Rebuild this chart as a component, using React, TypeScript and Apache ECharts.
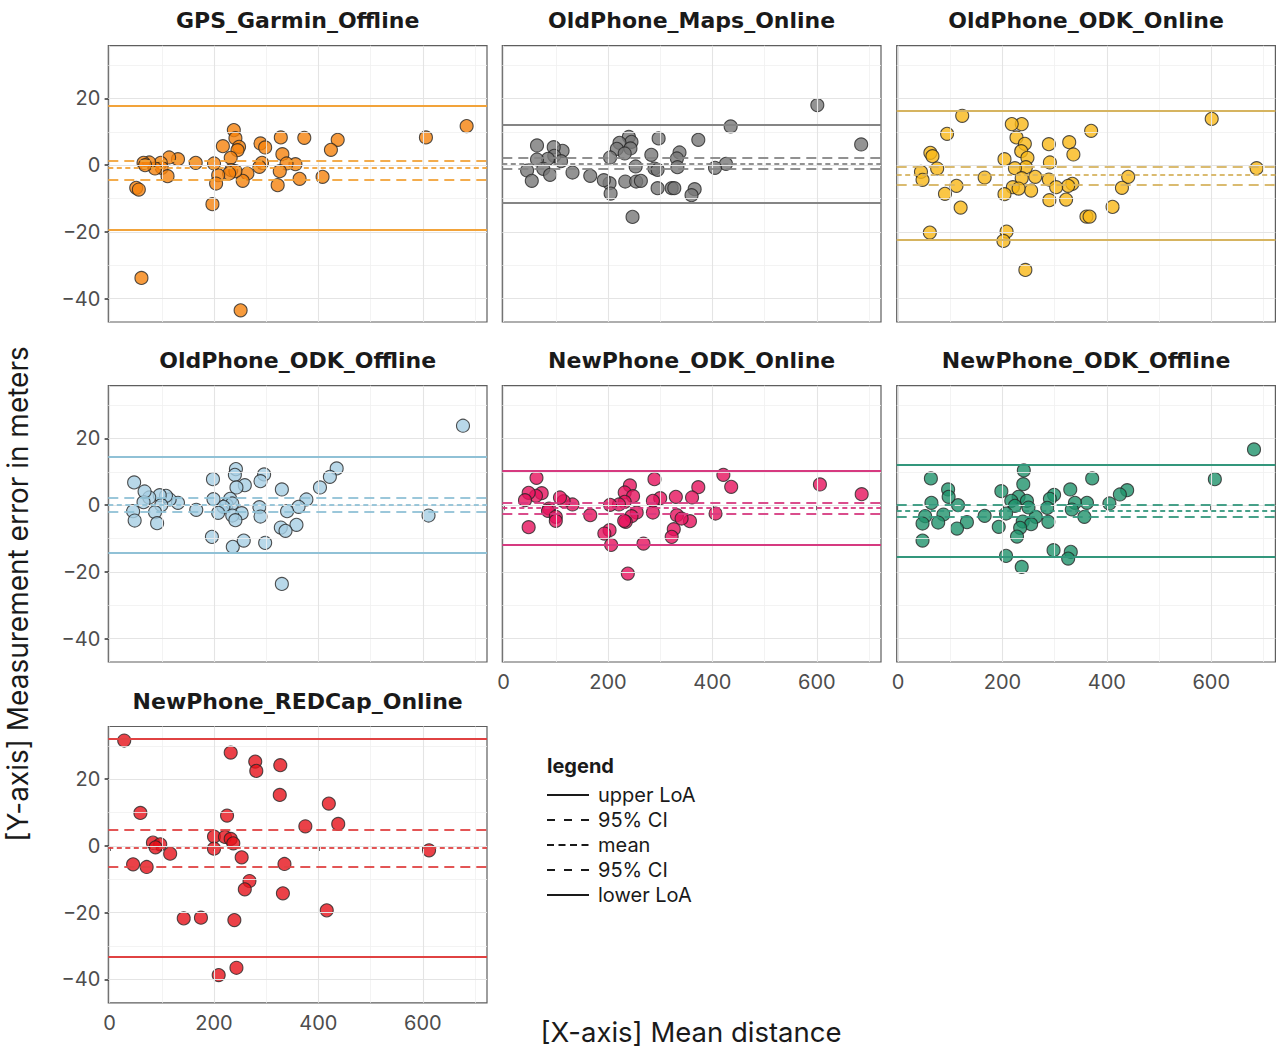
import React, { useEffect, useRef } from "react";
import * as echarts from "echarts";

// ---------- data ----------
const panelNames = [
  "GPS_Garmin_Offline",
  "OldPhone_Maps_Online",
  "OldPhone_ODK_Online",
  "OldPhone_ODK_Offline",
  "NewPhone_ODK_Online",
  "NewPhone_ODK_Offline",
  "NewPhone_REDCap_Online",
];

const gpsGarminOffline = [
  [684, 11.7], [606, 8.3], [437, 7.6], [424, 4.6], [373, 8.2], [408, -3.5], [364, -4.1], [356, 0.3],
  [328, 8.3], [331, 3.3], [339, 0.5], [326, -1.8], [322, -6.0], [289, 6.5], [298, 5.3], [292, 0.7],
  [287, -0.5], [264, -2.5], [255, -4.7], [238, 10.5], [241, 8.1], [248, 5.5], [245, 4.5], [232, 2.2],
  [217, 5.7], [233, -1.5], [241, -1.8], [229, -2.5], [208, -3.0], [204, -5.5], [200, 0.5], [197, -11.7],
  [251, -43.5], [165, 0.7], [131, 1.8], [114, 2.3], [98, 0.7], [100, -0.8], [87, -1.0], [111, -3.3],
  [76, 0.8], [65, 0.7], [68, 0], [51, -6.8], [56, -7.3], [61, -33.8],
];

const oldPhoneMapsOnline = [
  [601, 18.0], [685, 6.2], [435, 11.6], [373, 7.6], [426, 0.4], [405, -0.8], [337, 3.8], [332, 2.0],
  [333, -0.6], [297, 8.0], [283, 3.1], [289, -1.0], [295, -1.4], [295, -6.9], [322, -6.9], [327, -6.9],
  [366, -7.2], [360, -9.0], [240, 8.5], [245, 7.0], [222, 6.7], [243, 5.0], [217, 4.9], [232, 3.5],
  [204, 2.3], [253, -0.4], [233, -4.9], [254, -4.9], [263, -4.7], [203, -5.4], [205, -8.5], [192, -4.5],
  [247, -15.5], [166, -3.2], [132, -2.2], [113, 4.3], [96, 5.4], [97, 2.8], [110, 1.2], [85, 1.9],
  [64, 5.9], [64, 1.7], [76, -1.1], [89, -2.9], [45, -1.6], [54, -4.7],
];

const oldPhoneOdkOnline = [
  [601, 13.9], [687, -0.9], [370, 10.3], [441, -3.5], [429, -6.8], [411, -12.5], [361, -15.4], [367, -15.4],
  [328, 6.9], [336, 3.2], [334, -5.6], [326, -6.2], [322, -10.3], [289, 6.3], [291, 0.8], [289, -4.3],
  [303, -6.6], [290, -10.5], [263, -3.5], [255, -7.6], [237, 12.3], [218, 12.3], [227, 8.3], [243, 6.4],
  [236, 4.2], [248, 2.2], [245, -0.6], [224, -0.9], [237, -3.9], [220, -6.6], [231, -7.0], [204, 1.8],
  [204, -8.7], [208, -19.9], [202, -22.7], [244, -31.4], [166, -3.7], [123, 14.8], [94, 9.4], [112, -6.2],
  [90, -8.6], [120, -12.7], [62, 3.7], [66, 2.7], [75, -1.0], [44, -2.0], [47, -4.4], [61, -20.2],
];

const oldPhoneOdkOffline = [
  [677, 23.8], [611, -3.1], [435, 11.0], [422, 8.5], [403, 5.3], [377, 1.7], [362, -0.5], [358, -5.9],
  [330, 4.7], [340, -1.8], [328, -6.7], [337, -7.7], [330, -23.6], [296, 9.2], [289, 7.2], [287, -0.6],
  [289, -3.4], [298, -11.3], [242, 10.8], [240, 9.1], [259, 6.0], [243, 5.3], [231, 1.9], [224, 0.1],
  [235, 0.5], [218, -0.5], [253, -2.4], [235, -3.1], [241, -4.5], [208, -2.3], [199, 1.8], [198, 7.8],
  [196, -9.5], [236, -12.5], [257, -10.6], [166, -1.4], [131, 0.7], [115, 1.7], [108, 2.8], [96, 3.0],
  [99, 0], [87, -2.1], [91, -5.4], [76, 2.3], [65, 0.9], [67, 4.1], [47, 6.8], [45, -1.8], [48, -4.6],
];

const newPhoneOdkOnline = [
  [686, 3.3], [606, 6.2], [421, 9.1], [436, 5.5], [373, 5.4], [361, 2.3], [406, -2.5], [357, -4.8],
  [330, 2.5], [332, -3.0], [341, -4.0], [326, -7.2], [322, -9.5], [289, 7.8], [300, 2.1], [286, 1.3],
  [286, -2.2], [268, -11.5], [242, 5.9], [232, 3.8], [248, 2.7], [232, 1.0], [221, 0.2], [204, 0.1],
  [255, -2.2], [245, -3.3], [234, -5.0], [231, -4.7], [203, -7.5], [193, -8.5], [206, -11.9], [238, -20.5],
  [166, -3.0], [132, 0.2], [115, 1.2], [108, 2.3], [87, -1.0], [85, -1.7], [100, -3.5], [100, -4.7],
  [73, 3.6], [62, 2.8], [48, 3.7], [41, 1.5], [63, 8.2], [48, -6.6],
];

const newPhoneOdkOffline = [
  [682, 16.7], [607, 7.8], [439, 4.5], [425, 3.2], [405, 0.5], [372, 8.0], [362, 0.7], [357, -3.5],
  [330, 4.7], [339, 0.7], [333, -1.3], [331, -14.0], [326, -16.0], [298, -13.5], [299, 3.1], [291, 1.9],
  [286, -0.8], [288, -5.0], [264, -3.5], [241, 10.4], [240, 6.3], [231, 2.5], [217, 1.3], [247, 1.3],
  [224, -0.2], [250, -0.7], [239, -4.9], [255, -5.7], [234, -6.8], [228, -9.4], [198, 4.2], [207, -2.5],
  [193, -6.5], [207, -15.2], [237, -18.5], [166, -3.2], [132, -5.1], [113, -7.0], [115, 0], [96, 4.7],
  [97, 2.5], [87, -2.8], [77, -5.2], [63, 8.0], [64, 0.7], [52, -3.3], [47, -5.5], [47, -10.6],
];

const newPhoneRedcapOnline = [
  [28, 31.6], [232, 28.0], [279, 25.3], [281, 22.5], [327, 24.2], [326, 15.3], [420, 12.7], [438, 6.6],
  [375, 5.9], [225, 9.1], [59, 9.9], [200, 2.8], [221, 2.7], [232, 2.1], [237, 0.8], [200, -0.8],
  [83, 1.0], [97, 0.5], [88, -0.4], [116, -2.3], [253, -3.4], [335, -5.4], [45, -5.5], [71, -6.3],
  [268, -10.5], [259, -13.0], [332, -14.2], [416, -19.3], [142, -21.7], [175, -21.5], [239, -22.2],
  [243, -36.5], [209, -38.7], [612, -1.3],
];

// reference lines: upper LoA, 95% CI, mean, 95% CI, lower LoA
const loaGps = [17.7, 1.2, -0.8, -4.5, -19.3];
const loaOldMaps = [12.2, 2.1, 0.5, -1.1, -11.3];
const loaOldOdkOnline = [16.4, -0.5, -3.0, -5.8, -22.4];
const loaOldOdkOffline = [14.5, 2.1, 0.1, -2.0, -14.4];
const loaNewOdkOnline = [10.4, 0.7, -0.8, -2.5, -11.9];
const loaNewOdkOffline = [12.0, 0.0, -1.7, -3.5, -15.5];
const loaNewRedcap = [32.0, 4.8, -0.6, -6.1, -33.2];

const legendLabels = ["upper LoA", "95% CI", "mean", "95% CI", "lower LoA"];

const xTicks = [0, 200, 400, 600];
const yTicks = [-40, -20, 0, 20];
const xGridMajor = [0, 200, 400, 600];
const xGridMinor = [100, 300, 500, 700];
const yGridMajor = [-40, -20, 0, 20];
const yGridMinor = [-30, -10, 10, 30];

// ---------- styles ----------
const pointFills = ["#f5820c", "#787878", "#f9b816", "#a6cee3", "#e6125c", "#1f926b", "#e6121a"];
const lineColors = ["#f2a33a", "#858585", "#d6b460", "#90c1d6", "#d63a80", "#33977c", "#e04242"];
const FONT = "Inter, 'Noto Sans', sans-serif";
const TITLE_FONT = "'DejaVu Sans', Inter, sans-serif";

const X_MIN = -2.5;
const X_MAX = 723;
const Y_MIN = -47.0;
const Y_MAX = 35.8;

const colLeft = [108.3, 502.3, 896.7];
const rowTop = [45.7, 385.7, 726.5];
const PANEL_W = 378.7;
const PANEL_H = 276.3;

const lineDashes: any[] = ["solid", [10, 6], [5, 3.5], [10, 6], "solid"];
const lineWidths = [1.8, 2.1, 2.1, 2.1, 1.8];

const panelData = [
  gpsGarminOffline,
  oldPhoneMapsOnline,
  oldPhoneOdkOnline,
  oldPhoneOdkOffline,
  newPhoneOdkOnline,
  newPhoneOdkOffline,
  newPhoneRedcapOnline,
];
const panelLoa = [loaGps, loaOldMaps, loaOldOdkOnline, loaOldOdkOffline, loaNewOdkOnline, loaNewOdkOffline, loaNewRedcap];

const fmt = (v: number) => String(v).replace("-", "\u2212");

function buildOption() {
  const grid: any[] = [];
  const xAxis: any[] = [];
  const yAxis: any[] = [];
  const series: any[] = [];
  const graphic: any[] = [];

  panelNames.forEach((name, i) => {
    const col = i % 3;
    const row = Math.floor(i / 3);
    const showX = i >= 4;
    const showY = col === 0;
    grid.push({
      left: colLeft[col],
      top: rowTop[row],
      width: PANEL_W,
      height: PANEL_H,
      show: true,
      borderColor: "#5e5e5e",
      borderWidth: 1.2,
      backgroundColor: "transparent",
      containLabel: false,
    });
    xAxis.push({
      type: "value",
      gridIndex: i,
      min: X_MIN,
      max: X_MAX,
      axisLine: { show: false },
      splitLine: { show: false },
      axisTick: { show: showX, length: 5, lineStyle: { color: "#333333", width: 1.5 }, customValues: xTicks },
      axisLabel: {
        show: showX,
        customValues: xTicks,
        fontSize: 20,
        color: "#4d4d4d",
        fontFamily: FONT,
        margin: 10,
        formatter: (v: number) => fmt(v),
      },
    });
    yAxis.push({
      type: "value",
      gridIndex: i,
      min: Y_MIN,
      max: Y_MAX,
      axisLine: { show: false },
      splitLine: { show: false },
      axisTick: { show: showY, length: 5, lineStyle: { color: "#333333", width: 1.5 }, customValues: yTicks },
      axisLabel: {
        show: showY,
        customValues: yTicks,
        fontSize: 20,
        color: "#4d4d4d",
        fontFamily: FONT,
        margin: 8,
        formatter: (v: number) => fmt(v),
      },
    });

    const gridLines = [
      ...yGridMinor.map((v) => ({ yAxis: v, lineStyle: { color: "#f0f0f0", width: 0.8, type: "solid" } })),
      ...xGridMinor.map((v) => ({ xAxis: v, lineStyle: { color: "#f0f0f0", width: 0.8, type: "solid" } })),
      ...yGridMajor.map((v) => ({ yAxis: v, lineStyle: { color: "#e4e4e4", width: 1.1, type: "solid" } })),
      ...xGridMajor.map((v) => ({ xAxis: v, lineStyle: { color: "#e4e4e4", width: 1.1, type: "solid" } })),
    ];
    series.push({
      type: "line",
      xAxisIndex: i,
      yAxisIndex: i,
      data: [],
      z: 1,
      silent: true,
      markLine: {
        silent: true,
        animation: false,
        symbol: ["none", "none"],
        label: { show: false },
        emphasis: { disabled: true },
        data: gridLines,
      },
    });
    series.push({
      type: "line",
      xAxisIndex: i,
      yAxisIndex: i,
      data: [],
      z: 2,
      silent: true,
      markLine: {
        silent: true,
        animation: false,
        symbol: ["none", "none"],
        label: { show: false },
        emphasis: { disabled: true },
        data: panelLoa[i].map((v, k) => ({
          yAxis: v,
          lineStyle: {
            color: lineColors[i],
            width: lineWidths[k],
            type: lineDashes[k],
            opacity: k === 0 || k === 4 ? 1 : 0.9,
          },
        })),
      },
    });
    series.push({
      type: "scatter",
      name,
      xAxisIndex: i,
      yAxisIndex: i,
      data: panelData[i],
      z: 3,
      symbol: "circle",
      symbolSize: 13,
      itemStyle: { color: pointFills[i], borderColor: "#262626", borderWidth: 1.1 },
      emphasis: { disabled: true },
    });

    graphic.push({
      type: "text",
      x: colLeft[col] + PANEL_W / 2,
      y: rowTop[row] - 25,
      style: {
        text: name,
        font: `bold 22px ${TITLE_FONT}`,
        fill: "#1a1a1a",
        textAlign: "center",
        textVerticalAlign: "middle",
      },
    });
  });

  graphic.push({
    type: "text",
    x: 691,
    y: 1032,
    style: {
      text: "[X-axis] Mean distance",
      font: `27.5px ${FONT}`,
      fill: "#1a1a1a",
      textAlign: "center",
      textVerticalAlign: "middle",
    },
  });
  graphic.push({
    type: "text",
    x: 18,
    y: 594,
    rotation: Math.PI / 2,
    style: {
      text: "[Y-axis] Measurement error in meters",
      font: `28px ${FONT}`,
      fill: "#1a1a1a",
      textAlign: "center",
      textVerticalAlign: "middle",
    },
  });

  // legend
  graphic.push({
    type: "text",
    x: 547,
    y: 766,
    style: { text: "legend", font: `bold 20px ${FONT}`, fill: "#1a1a1a", textAlign: "left", textVerticalAlign: "middle" },
  });
  const legendDash: any[] = [null, [8, 9], [7, 4.5], [8, 9], null];
  legendLabels.forEach((lab, k) => {
    const y = 795 + k * 25;
    graphic.push({
      type: "line",
      shape: { x1: 547, y1: y, x2: 589, y2: y },
      style: { stroke: "#1a1a1a", lineWidth: 2, lineDash: legendDash[k] || undefined },
    });
    graphic.push({
      type: "text",
      x: 598,
      y,
      style: { text: lab, font: `20px ${FONT}`, fill: "#1a1a1a", textAlign: "left", textVerticalAlign: "middle" },
    });
  });

  return {
    animation: false,
    backgroundColor: "#ffffff",
    grid,
    xAxis,
    yAxis,
    series,
    graphic,
  };
}

export default function App() {
  const ref = useRef<HTMLDivElement>(null);
  useEffect(() => {
    if (!ref.current) return;
    const chart = echarts.init(ref.current, undefined, { renderer: "svg" });
    chart.setOption(buildOption() as any);
    return () => chart.dispose();
  }, []);
  return (
    <div
      ref={ref}
      style={{ position: "fixed", left: 0, top: 0, width: 1280, height: 1052, background: "#fff" }}
    />
  );
}
